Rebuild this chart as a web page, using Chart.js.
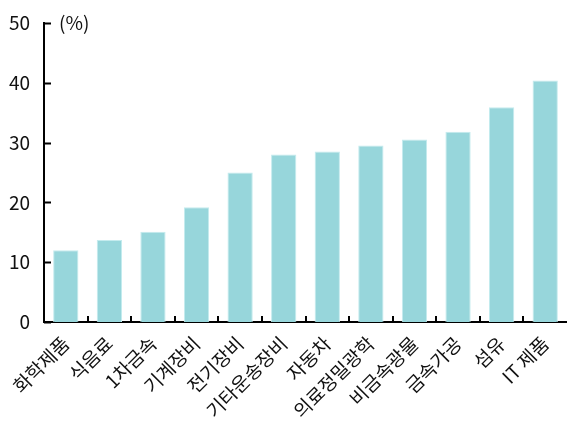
<!DOCTYPE html>
<html>
<head>
<meta charset="utf-8">
<script src="https://cdn.jsdelivr.net/npm/chart.js@4"></script>
<style>
  html, body { margin: 0; padding: 0; background: #fff; }
  #wrap { position: relative; width: 567px; height: 426px; }
</style>
</head>
<body>
<div id="wrap"><canvas id="c" width="567" height="426"></canvas></div>
<script>
// Industry categories and their shares (%)
const categories = ['화학제품', '식음료', '1차금속', '기계장비', '전기장비', '기타운송장비',
                    '자동차', '의료정밀광학', '비금속광물', '금속가공', '섬유', 'IT 제품'];
const shares = [12.0, 13.7, 15.1, 19.2, 25.0, 28.0, 28.5, 29.5, 30.5, 31.8, 35.9, 40.4];
const yTicks = [0, 10, 20, 30, 40, 50];
const unitLabel = '(%)';

const FONT = '"Noto Sans CJK KR", "Noto Sans", sans-serif';

// Short tick marks drawn on the inner side of both axes, plus the unit label
const innerTicks = {
  id: 'innerTicks',
  afterDraw(chart) {
    const { ctx, scales: { x, y } } = chart;
    ctx.save();
    ctx.strokeStyle = '#000';
    ctx.lineWidth = 2;
    ctx.beginPath();
    yTicks.forEach(v => {
      const py = Math.round(y.getPixelForValue(v)) + 0.5;
      ctx.moveTo(x.left, py);
      ctx.lineTo(x.left + 7, py);
    });
    for (let i = 0; i < categories.length - 1; i++) {
      const px = Math.round((x.getPixelForValue(i) + x.getPixelForValue(i + 1)) / 2);
      ctx.moveTo(px, y.bottom);
      ctx.lineTo(px, y.bottom - 6);
    }
    ctx.stroke();
    ctx.fillStyle = '#111';
    ctx.font = '19px ' + FONT;
    ctx.textAlign = 'left';
    ctx.textBaseline = 'middle';
    ctx.fillText(unitLabel, x.left + 15, y.getPixelForValue(50));
    ctx.restore();
  }
};

new Chart(document.getElementById('c'), {
  type: 'bar',
  data: {
    labels: categories,
    datasets: [{
      data: shares,
      backgroundColor: '#97d6db',
      borderColor: '#c4ebee',
      borderWidth: 1,
      barPercentage: 0.58,
      categoryPercentage: 1.0
    }]
  },
  options: {
    responsive: false,
    animation: false,
    devicePixelRatio: 1,
    layout: { padding: { top: 23, right: 0, left: 0, bottom: 0 } },
    plugins: { legend: { display: false }, tooltip: { enabled: false } },
    scales: {
      x: {
        z: 1,
        grid: { display: false, drawTicks: false },
        border: { display: true, color: '#000', width: 2 },
        ticks: {
          color: '#111',
          font: { family: FONT, size: 19 },
          maxRotation: 45,
          minRotation: 45,
          autoSkip: false,
          padding: 10
        },
        afterFit(scale) {
          scale.height = 104;
          scale.paddingLeft = 0;
          scale.paddingRight = 0;
        }
      },
      y: {
        z: 1,
        min: 0,
        max: 50,
        afterBuildTicks(scale) { scale.ticks = yTicks.map(v => ({ value: v })); },
        grid: { display: false, drawTicks: false },
        border: { display: true, color: '#000', width: 2 },
        ticks: {
          color: '#111',
          font: { family: FONT, size: 19 },
          padding: 14
        },
        afterFit(scale) {
          scale.width = 44;
          scale.paddingTop = 0;
          scale.paddingBottom = 0;
        }
      }
    }
  },
  plugins: [innerTicks]
});
</script>
</body>
</html>
